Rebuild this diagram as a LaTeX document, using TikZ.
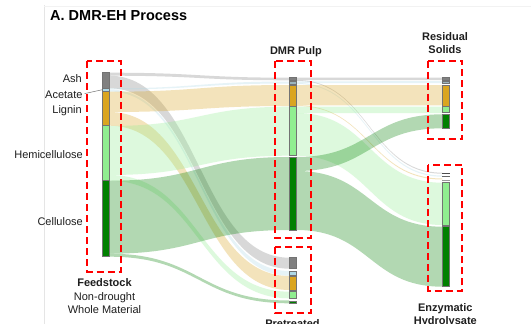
\documentclass[tikz,border=0pt]{standalone}
\usepackage{fontspec}
\setmainfont{Liberation Sans}
\definecolor{ashc}{RGB}{128,128,128}
\definecolor{acec}{RGB}{173,216,230}
\definecolor{ligc}{RGB}{218,165,32}
\definecolor{hemc}{RGB}{144,238,144}
\definecolor{celc}{RGB}{0,128,0}
\definecolor{txtc}{RGB}{30,30,30}
% flow band: x1, y1top, y1bot, x2, y2top, y2bot, colour
\newcommand\sflow[7]{%
  \fill[#7, fill opacity=0.3] (#1,#2) .. controls ({(#1+#4)/2},#2) and ({(#1+#4)/2},#5) .. (#4,#5)
    -- (#4,#6) .. controls ({(#1+#4)/2},#6) and ({(#1+#4)/2},#3) .. (#1,#3) -- cycle;}
% bar: x, ytop, ybot, colour
\newcommand\sbar[4]{%
  \filldraw[fill=#4, draw=black!55, line width=0.5pt] (#1,#2) rectangle ({#1+7.4},#3);}
\tikzset{
  redbox/.style={draw=red, line width=2pt, dash pattern=on 7pt off 4pt},
  lab/.style={inner sep=0, font=\fontsize{11}{13}\selectfont, text=txtc},
  blab/.style={inner sep=0, font=\bfseries\fontsize{11}{13}\selectfont, text=txtc},
}
\begin{document}
\begin{tikzpicture}[x=1pt,y=-1pt]
\useasboundingbox (0,0) rectangle (531,324);
\fill[white] (0,0) rectangle (531,324);
% faint frame
\draw[black!10, line width=0.6pt] (44,5) -- (44,324);
\draw[black!5, line width=0.6pt] (44,6) -- (531,6);

% title
\node[anchor=base west, inner sep=0, font=\bfseries\fontsize{14.5}{17}\selectfont] (title) at (50,20) {A. DMR-EH Process};

% ---- flows feedstock -> DMR pulp / pretreated
\sflow{109.3}{72.7}{75.7}{289.3}{77.7}{80.3}{ashc}
\sflow{109.3}{75.7}{88.3}{289.3}{257.7}{268.7}{ashc}
\sflow{109.3}{88.3}{89.5}{289.3}{81.5}{83.5}{acec}
\sflow{109.3}{89.5}{91.5}{289.3}{271}{275.7}{acec}
\sflow{109.3}{91.7}{112}{289.3}{85}{106}{ligc}
\sflow{109.3}{112}{125.7}{289.3}{276}{290}{ligc}
\sflow{109.3}{126}{175}{289.3}{106.7}{155.7}{hemc}
\sflow{109.3}{175}{180.7}{289.3}{291.7}{298.3}{hemc}
\sflow{109.3}{180.7}{253.7}{289.3}{157}{230}{celc}
\sflow{109.3}{253.7}{256.7}{289.3}{300.5}{303.3}{celc}

% ---- flows DMR pulp -> residual solids / hydrolysate
\sflow{296.7}{77.7}{80}{442.3}{77.7}{80}{ashc}
\sflow{296.7}{80}{80.8}{442.3}{172.7}{173.7}{ashc}
\sflow{296.7}{81.5}{83}{442.3}{81}{83}{acec}
\sflow{296.7}{83}{84}{442.3}{175.5}{176.7}{acec}
\sflow{296.7}{85}{105.3}{442.3}{85}{105.3}{ligc}
\sflow{296.7}{105.3}{106}{442.3}{178.5}{179.5}{ligc}
\sflow{296.7}{106.7}{113}{442.3}{106.7}{113}{hemc}
\sflow{296.7}{113}{155.7}{442.3}{182.7}{225}{hemc}
\sflow{296.7}{157}{171}{442.3}{114.3}{128.3}{celc}
\sflow{296.7}{171}{230}{442.3}{226.7}{286.7}{celc}

% ---- bars: feedstock
\sbar{101.9}{72.7}{88.3}{ashc}
\sbar{101.9}{88.3}{91.3}{acec}
\sbar{101.9}{91.3}{125.7}{ligc}
\sbar{101.9}{125.7}{180.7}{hemc}
\sbar{101.9}{180.7}{256.7}{celc}
% DMR pulp
\sbar{289.3}{77.7}{80.3}{ashc}
\sbar{289.3}{81.5}{84.3}{acec!60!ashc}
\sbar{289.3}{85}{106}{ligc}
\sbar{289.3}{106.7}{155.7}{hemc}
\sbar{289.3}{157}{230}{celc}
% pretreated
\sbar{289.3}{257.7}{268.7}{ashc}
\sbar{289.3}{271}{275.7}{acec}
\sbar{289.3}{276}{290}{ligc}
\sbar{289.3}{291.7}{298.3}{hemc}
\sbar{289.3}{300.8}{303.3}{celc}
% residual solids
\sbar{442.3}{77.7}{80.3}{ashc}
\sbar{442.3}{81.3}{83.3}{acec!60!ashc}
\sbar{442.3}{85}{106}{ligc}
\sbar{442.3}{106.7}{112.7}{hemc}
\sbar{442.3}{114.3}{128.3}{celc}
% hydrolysate
\draw[black!70, line width=0.8pt] (442.3,172.9) -- (449.7,172.9);
\draw[black!60, line width=0.8pt] (442.3,176.5) -- (449.7,176.5);
\draw[black!40, line width=0.8pt] (442.3,180.2) -- (449.7,180.2);
\sbar{442.3}{182.7}{225}{hemc}
\sbar{442.3}{226.7}{286.7}{celc}

% ---- dashed boxes
\draw[redbox] (87.3,61) rectangle (121,271.7);
\draw[redbox] (275,61) rectangle (310.7,238.3);
\draw[redbox] (275,246.7) rectangle (310.7,313);
\draw[redbox] (428.3,60.7) rectangle (462.3,139.3);
\draw[redbox] (428.3,165) rectangle (462.3,290.7);

% ---- component labels
\node[lab, anchor=base east] (lash) at (82,82.7) {Ash};
\node[lab, anchor=base east] (lace) at (82.7,98.3) {Acetate};
\node[lab, anchor=base east] (llig) at (82,113.7) {Lignin};
\node[lab, anchor=base east] (lhem) at (83,158.7) {Hemicellulose};
\node[lab, anchor=base east] (lcel) at (83,225.7) {Cellulose};
\coordinate (acebar) at (101.9,89.8);
\draw[black!55, line width=0.5pt] (lace.east) ++(2,-1) -- (acebar);

% ---- stage labels
\node[blab, anchor=base] (lfeed) at (104.5,286.7) {Feedstock};
\node[lab, anchor=base] (lnd) at (104.5,300) {Non-drought};
\node[lab, anchor=base] (lwm) at (104.5,313.3) {Whole Material};
\node[blab, anchor=base] (ldmr) at (296,54.3) {DMR Pulp};
\node[blab, anchor=base] (lres1) at (445,40) {Residual};
\node[blab, anchor=base] (lres2) at (445,53.3) {Solids};
\node[blab, anchor=base] (lenz1) at (445.3,311) {Enzymatic};
\node[blab, anchor=base] (lenz2) at (445.3,324.3) {Hydrolysate};
\node[blab, anchor=base] (lpre) at (292.5,327.5) {Pretreated};
\end{tikzpicture}
\end{document}
